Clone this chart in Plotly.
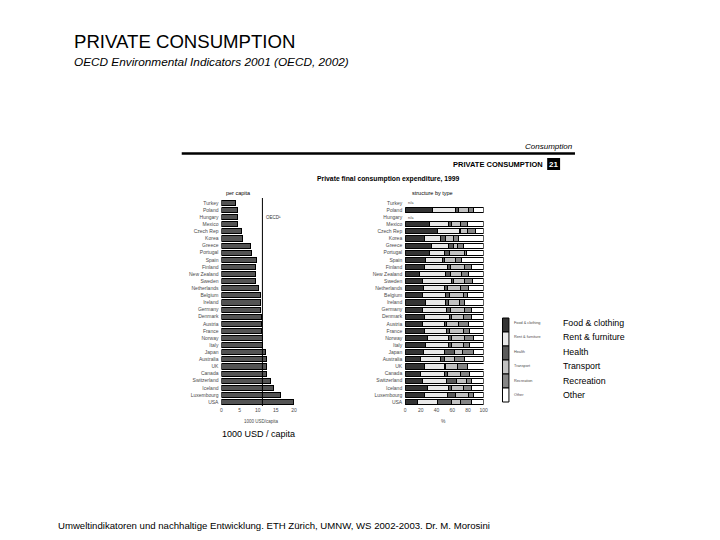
import plotly.graph_objects as go

W, H = 720, 540

countries = ["Turkey", "Poland", "Hungary", "Mexico", "Czech Rep", "Korea", "Greece", "Portugal",
             "Spain", "Finland", "New Zealand", "Sweden", "Netherlands", "Belgium", "Ireland",
             "Germany", "Denmark", "Austria", "France", "Norway", "Italy", "Japan", "Australia",
             "UK", "Canada", "Switzerland", "Iceland", "Luxembourg", "USA"]
per_capita = [4.0, 4.3, 4.5, 4.5, 5.6, 5.8, 8.1, 8.3, 9.7, 9.5, 9.5, 9.5, 10.3, 10.7, 10.7,
              10.7, 11.0, 11.1, 11.1, 11.4, 11.4, 12.2, 12.5, 12.5, 12.5, 13.4, 14.4, 16.3, 20.0]
oecd_avg = 11.3

food = [None, 35, None, 31, 41, 24, 34, 31, 26, 24, 18, 22, 23, 22, 26, 22, 24, 22, 24, 28, 26, 23, 20, 24, 20, 22, 29, 25, 16]
rent = [None, 29, None, 24, 28, 21, 21, 19, 21, 30, 33, 37, 27, 30, 26, 31, 32, 28, 29, 27, 29, 27, 25, 26, 30, 31, 26, 29, 25]
health = [None, 4, None, 4, 1, 7, 7, 7, 3, 4, 7, 3, 4, 5, 3, 5, 3, 3, 4, 4, 4, 13, 5, 1, 4, 13, 4, 10, 18]
transport = [None, 13, None, 12, 10, 10, 5, 19, 14, 17, 14, 14, 16, 17, 14, 18, 15, 15, 17, 17, 15, 10, 13, 16, 17, 12, 15, 17, 12]
recreation = [None, 6, None, 9, 10, 6, 7, 2, 8, 10, 9, 10, 11, 6, 7, 8, 11, 13, 8, 11, 8, 14, 13, 13, 11, 7, 11, 6, 14]
other = [None, 13, None, 20, 10, 32, 26, 22, 28, 15, 19, 14, 19, 20, 24, 16, 15, 19, 18, 13, 18, 13, 24, 21, 18, 15, 15, 13, 15]

categories = ["Food & clothing", "Rent & furniture", "Health", "Transport", "Recreation", "Other"]
cat_colors = ["#333333", "#e8e8e8", "#5a5a5a", "#c2c2c2", "#858585", "#ffffff"]
shares = [food, rent, health, transport, recreation, other]

left_ticks = [0, 5, 10, 15, 20]
right_ticks = [0, 20, 40, 60, 80, 100]


def px(x):
    return x / W


def py(y):
    return 1 - y / H


fig = go.Figure()

fig.add_trace(go.Bar(
    x=per_capita, y=countries, orientation="h", xaxis="x", yaxis="y",
    marker=dict(color="#545454", line=dict(color="#000000", width=1)),
    width=0.72, showlegend=False, hoverinfo="x+y"))

for name, col, vals in zip(categories, cat_colors, shares):
    fig.add_trace(go.Bar(
        x=vals, y=countries, orientation="h", xaxis="x2", yaxis="y2", name=name,
        marker=dict(color=col, line=dict(color="#000000", width=1)),
        width=0.72, showlegend=False))

ydom = [py(405.6), py(199.4)]
nrow = len(countries)
tickfont = dict(family="Liberation Sans", size=5, color="#4a4a4a")

fig.update_layout(
    width=W, height=H, margin=dict(l=0, r=0, t=0, b=0),
    paper_bgcolor="white", plot_bgcolor="rgba(0,0,0,0)",
    barmode="stack", bargap=0.28,
    font=dict(family="Liberation Sans", color="#000000"),
    xaxis=dict(domain=[px(222), px(295)], range=[0, 20], tickvals=left_ticks,
               showgrid=False, zeroline=False, showline=False, ticks="",
               tickfont=tickfont, fixedrange=True),
    yaxis=dict(domain=ydom, range=[nrow - 0.5, -0.5], type="category",
               showgrid=False, zeroline=False, showline=False, ticks="",
               tickfont=tickfont, ticklabelstandoff=2),
    xaxis2=dict(domain=[px(407), px(486)], range=[0, 100], tickvals=right_ticks,
                anchor="y2", showgrid=False, zeroline=False, showline=False, ticks="",
                tickfont=tickfont),
    yaxis2=dict(domain=ydom, range=[nrow - 0.5, -0.5], type="category", anchor="x2",
                showgrid=False, zeroline=False, showline=False, ticks="",
                tickfont=tickfont, ticklabelstandoff=2),
)

shapes = []
# OECD average line
shapes.append(dict(type="line", xref="x", yref="paper", x0=oecd_avg, x1=oecd_avg,
                   y0=py(406), y1=py(198), line=dict(color="#000000", width=1)))
# Header rule
shapes.append(dict(type="line", xref="paper", yref="paper", x0=px(182), x1=px(578),
                   y0=py(153.5), y1=py(153.5), line=dict(color="#000000", width=2.5)))
# Number box "21"
shapes.append(dict(type="rect", xref="paper", yref="paper", x0=px(550), x1=px(563),
                   y0=py(170), y1=py(158), fillcolor="#000000", line=dict(width=0)))

# Legend boxes
leg_top, leg_h = 318, 14
for i, col in enumerate(cat_colors):
    shapes.append(dict(type="rect", xref="paper", yref="paper",
                       x0=px(505), x1=px(511.5),
                       y0=py(leg_top + (i + 1) * leg_h), y1=py(leg_top + i * leg_h),
                       fillcolor=col, line=dict(color="#000000", width=1)))
fig.update_layout(shapes=shapes)

ann = []


def text(x, y, s, size, xanchor="left", color="#000000", bold=False, italic=False, family="Liberation Sans"):
    t = s
    if bold:
        t = "<b>" + t + "</b>"
    if italic:
        t = "<i>" + t + "</i>"
    ann.append(dict(xref="paper", yref="paper", x=px(x), y=py(y), text=t, showarrow=False,
                    xanchor=xanchor, yanchor="middle",
                    font=dict(size=size, color=color, family=family)))


text(71, 41, "PRIVATE CONSUMPTION", 18.6)
text(71, 62, "OECD Environmental Indicators 2001 (OECD, 2002)", 11.8, italic=True)
text(55, 525, "Umweltindikatoren und nachhaltige Entwicklung. ETH Zürich, UMNW, WS 2002-2003. Dr. M. Morosini", 9.6)

text(578, 147, "Consumption", 8, xanchor="right", italic=True)
text(548, 164, "PRIVATE CONSUMPTION", 7.5, xanchor="right", bold=True)
text(556.5, 164, "21", 8, xanchor="center", color="#ffffff", bold=True)
text(390, 179, "Private final consumption expenditure, 1999", 6.8, xanchor="center", bold=True)
text(225, 193, "per capita", 5.5)
text(435, 193, "structure by type", 5.5, xanchor="center")

text(265, 218, "OECD¹", 4.5, color="#333333")
text(262, 421, "1000 USD/capita", 4.5, xanchor="center", color="#4a4a4a")
text(446, 421, "%", 5, xanchor="center", color="#4a4a4a")
text(221, 434, "1000 USD / capita", 9)

for i, lab in enumerate(categories):
    yy = 323 + i * 14.4
    text(515, yy, lab, 3.8, color="#4a4a4a")
    text(564, yy, lab, 8.8)

# n/a labels on rows without structure data
for i, c in enumerate(countries):
    if food[i] is None:
        ann.append(dict(xref="x2", yref="y2", x=0, y=i, text="n/a", showarrow=False,
                        xanchor="left", yanchor="middle", xshift=1,
                        font=dict(size=4, color="#4a4a4a", family="Liberation Sans")))

fig.update_layout(annotations=ann)

fig.write_html("out.html", config={"displayModeBar": False},
               post_script="document.body.style.margin='0';document.body.style.padding='0';")
